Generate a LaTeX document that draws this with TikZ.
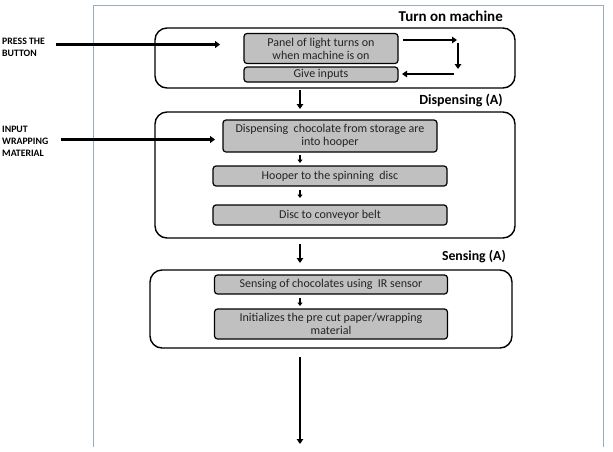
\documentclass[tikz,border=0pt]{standalone}
\usepackage{fontspec}
\setmainfont{Carlito}
\usetikzlibrary{arrows.meta}
\definecolor{framec}{RGB}{150,172,192}
\definecolor{boxgray}{RGB}{192,192,192}
\definecolor{txt}{RGB}{35,35,35}
\tikzset{
  outerbox/.style={draw=black, line width=1.4pt, rounded corners=12pt},
  stepbox/.style={draw=black, fill=boxgray, line width=1.2pt, rounded corners=3pt, align=center, text=txt, font=\fontsize{12}{13.2}\selectfont, inner sep=0pt},
  header/.style={font=\bfseries, anchor=east, inner sep=0pt},
  sidelab/.style={font=\bfseries\fontsize{9.8}{11.8}\selectfont, align=left, anchor=north west, inner sep=0pt},
  bigarrow/.style={line width=3pt, -{Triangle[length=5pt,width=7pt]}},
  midarrow/.style={line width=2.2pt, -{Triangle[length=5pt,width=6.5pt]}},
  smallarrow/.style={line width=1.5pt, -{Triangle[length=3.5pt,width=5pt]}},
}
\begin{document}
\begin{tikzpicture}[x=1pt,y=-1pt]
\useasboundingbox (0,0) rectangle (613,451);
\fill[white] (0,0) rectangle (613,451);
% frame
\draw[framec, line width=0.8pt] (93,447) -- (93,5) -- (603,5) -- (603,447);
% box 1
\draw[outerbox] (155,28) rectangle (515,88);
\node[header, font=\bfseries\fontsize{15}{16}\selectfont] (h1) at (503,16) {Turn on machine};
\node[stepbox, minimum width=154pt, minimum height=30pt] (panel) at (321,48.5) {Panel of light turns on\\when machine is on};
\node[stepbox, minimum width=154pt, minimum height=15pt] (give) at (321,74.5) {Give inputs};
\coordinate (r1) at (403,40);
\coordinate (r2) at (457,40);
\coordinate (d1) at (458,43);
\coordinate (d2) at (458,69);
\coordinate (l1) at (454,74);
\coordinate (l2) at (402,74);
\draw[midarrow] (r1) -- (r2);
\draw[midarrow] (d1) -- (d2);
\draw[midarrow] (l1) -- (l2);
\node[sidelab] (press) at (2,38) {PRESS THE\\BUTTON};
\coordinate (pa) at (56,44.5);
\coordinate (pb) at (220,44.5);
\draw[bigarrow] (pa) -- (pb);
% arrow 1 -> 2
\coordinate (a1) at (300,90);
\coordinate (a2) at (300,109);
\draw[midarrow] (a1) -- (a2);
% box 2
\node[header, font=\bfseries\fontsize{14}{15}\selectfont] (h2) at (503,100) {Dispensing (A)};
\draw[outerbox] (155,112) rectangle (515,238);
\node[stepbox, minimum width=214pt, minimum height=32pt] (disp) at (330,136) {Dispensing\ \ chocolate from storage are\\into hooper};
\node[stepbox, minimum width=234pt, minimum height=20pt] (hoop) at (330,176) {Hooper to the spinning\ \ disc};
\node[stepbox, minimum width=234pt, minimum height=20pt] (discb) at (330,215) {Disc to conveyor belt};
\coordinate (s1a) at (300,155);
\coordinate (s1b) at (300,163);
\coordinate (s2a) at (300,190);
\coordinate (s2b) at (300,198);
\draw[smallarrow] (s1a) -- (s1b);
\draw[smallarrow] (s2a) -- (s2b);
\node[sidelab] (inwrap) at (2,126) {INPUT\\WRAPPING\\MATERIAL};
\coordinate (ia) at (61,139.5);
\coordinate (ib) at (215,139.5);
\draw[bigarrow] (ia) -- (ib);
% arrow 2 -> 3
\coordinate (b1) at (300,244);
\coordinate (b2) at (300,263);
\draw[midarrow] (b1) -- (b2);
% box 3
\node[header, font=\bfseries\fontsize{13.8}{15}\selectfont] (h3) at (506,257) {Sensing (A)};
\draw[outerbox] (150,270) rectangle (512,348);
\node[stepbox, minimum width=233pt, minimum height=19pt] (sens) at (331,284.5) {Sensing of chocolates using\ \ IR sensor};
\node[stepbox, minimum width=233pt, minimum height=30pt] (init) at (331,324) {Initializes the pre cut paper/wrapping\\material};
\coordinate (s3a) at (300,298);
\coordinate (s3b) at (300,306);
\draw[smallarrow] (s3a) -- (s3b);
% final arrow
\coordinate (c1) at (300,357);
\coordinate (c2) at (300,444);
\draw[midarrow] (c1) -- (c2);
\end{tikzpicture}
\end{document}
